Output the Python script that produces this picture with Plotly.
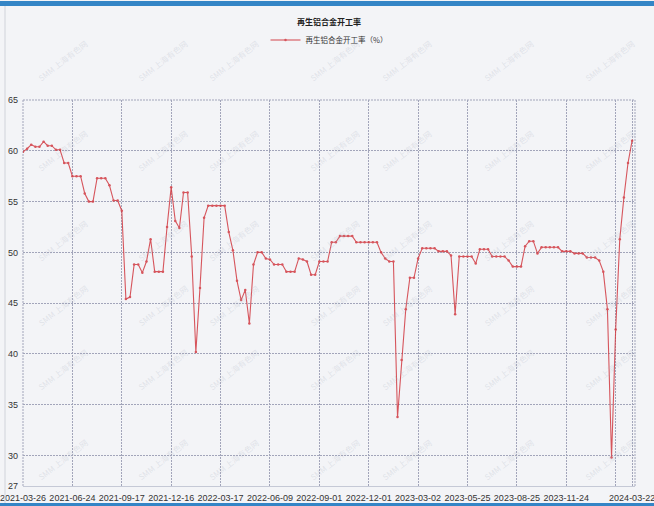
import plotly.graph_objects as go

title_text = "再生铝合金开工率"
series_name = "再生铝合金开工率（%）"

# weekly observations (index = reporting week)
values = [
    59.9, 60.2, 60.6, 60.4, 60.4, 60.9, 60.5, 60.5, 60.1, 60.1,
    58.8, 58.8, 57.5, 57.5, 57.5, 55.8, 55.0, 55.0, 57.3, 57.3,
    57.3, 56.6, 55.1, 55.1, 54.1, 45.4, 45.6, 48.8, 48.8, 48.0,
    49.1, 51.3, 48.1, 48.1, 48.1, 52.5, 56.4, 53.1, 52.4, 55.9,
    55.9, 49.6, 40.2, 46.5, 53.4, 54.6, 54.6, 54.6, 54.6, 54.6,
    52.0, 50.2, 47.2, 45.3, 46.3, 43.0, 48.8, 50.0, 50.0, 49.4,
    49.3, 48.8, 48.8, 48.8, 48.1, 48.1, 48.1, 49.4, 49.3, 49.1,
    47.8, 47.8, 49.1, 49.1, 49.1, 51.0, 51.0, 51.6, 51.6, 51.6,
    51.6, 51.0, 51.0, 51.0, 51.0, 51.0, 51.0, 50.0, 49.4, 49.1,
    49.1, 33.8, 39.4, 44.4, 47.5, 47.5, 49.4, 50.4, 50.4, 50.4,
    50.4, 50.1, 50.1, 50.1, 49.7, 43.9, 49.6, 49.6, 49.6, 49.6,
    48.9, 50.3, 50.3, 50.3, 49.6, 49.6, 49.6, 49.6, 49.2, 48.6,
    48.6, 48.6, 50.6, 51.1, 51.1, 49.9, 50.5, 50.5, 50.5, 50.5,
    50.5, 50.1, 50.1, 50.1, 49.9, 49.9, 49.9, 49.5, 49.5, 49.5,
    49.2, 48.1, 44.4, 29.8, 42.4, 51.3, 55.4, 58.8, 61.0,
]
week_index = list(range(len(values)))

tick_weeks = [0, 12, 24, 36, 48, 60, 72, 84, 96, 108, 120, 132, 144, 148]
tick_labels = ["2021-03-26", "2021-06-24", "2021-09-17", "2021-12-16",
               "2022-03-17", "2022-06-09", "2022-09-01", "2022-12-01",
               "2023-03-02", "2023-05-25", "2023-08-25", "2023-11-24",
               "", "2024-03-22"]
y_ticks = [27, 30, 35, 40, 45, 50, 55, 60, 65]

W, H = 654, 506
L, R, T, B = 23, 19, 100, 20
pw, ph = W - L - R, H - T - B

def px_to_paper(x, y):
    return (x - L) / pw, (H - B - y) / ph

line_color = "#d23a42"
grid_color = "#a2a5ba"
grid_dash = "2px,1px"
bg = "#f3f4f7"
num_font = "Liberation Sans Narrow, Liberation Sans, Arial, sans-serif"
cjk_font = "Noto Sans CJK SC, sans-serif"

fig = go.Figure()
fig.add_trace(go.Scatter(
    x=week_index, y=values, mode="lines+markers", name=series_name,
    line=dict(color=line_color, width=1.1),
    marker=dict(color=line_color, size=2.5, symbol="circle"),
    opacity=0.85,
))

annotations = []
# watermarks
for wy in [35, 125, 215, 305, 395, 485]:
    for wx in [33, 133, 234, 335, 437, 539, 640]:
        ax_, ay_ = px_to_paper(wx, wy)
        annotations.append(dict(
            x=ax_, y=ay_, xref="paper", yref="paper", text="SMM 上海有色网",
            showarrow=False, textangle=-38,
            font=dict(family=cjk_font, size=8, color="rgba(170,176,190,0.28)"),
        ))

shapes = []
# top blue bar
x0p, y0p = px_to_paper(0, 1)
x1p, y1p = px_to_paper(W, 6)
shapes.append(dict(type="rect", xref="paper", yref="paper", x0=x0p, x1=x1p,
                   y0=y0p, y1=y1p, fillcolor="#3485c6", line=dict(width=0),
                   layer="above"))
x0p, y0p = px_to_paper(0, 503)
x1p, y1p = px_to_paper(W, 506)
shapes.append(dict(type="rect", xref="paper", yref="paper", x0=x0p, x1=x1p,
                   y0=y0p, y1=y1p, fillcolor="#3485c6", line=dict(width=0),
                   layer="above"))
# left frame line
lx, ly0 = px_to_paper(5, 6)
_, ly1 = px_to_paper(5, 503)
shapes.append(dict(type="line", xref="paper", yref="paper", x0=lx, x1=lx,
                   y0=ly0, y1=ly1, line=dict(color="#d0d3da", width=1)))
# plot-area border (dotted, like the grid)
for (a0, a1, b0, b1) in [(1, 1, 0, 1), (0, 0, 0, 1), (0, 1, 1, 1)]:
    shapes.append(dict(type="line", xref="paper", yref="paper", x0=a0, x1=a1,
                       y0=b0, y1=b1, layer="below",
                       line=dict(color=grid_color, width=1, dash=grid_dash)))

fig.update_layout(
    width=W, height=H,
    margin=dict(l=L, r=R, t=T, b=B, pad=0),
    paper_bgcolor=bg, plot_bgcolor=bg,
    title=dict(text="<b>" + title_text + "</b>", x=0.5, xref="paper",
               xanchor="center", y=1 - 22 / H, yanchor="middle",
               font=dict(family=cjk_font, size=8, color="#222222")),
    showlegend=True,
    legend=dict(orientation="h", x=0.5, xanchor="center",
                y=(H - B - 40) / ph, yanchor="middle",
                font=dict(family=cjk_font, size=7.5, color="#333333"),
                bgcolor="rgba(0,0,0,0)", itemwidth=30),
    xaxis=dict(
        range=[0, 148.7], tickmode="array", tickvals=tick_weeks,
        ticktext=tick_labels, showgrid=True, gridcolor=grid_color,
        griddash=grid_dash, gridwidth=1, zeroline=False, showline=True,
        linecolor="#c5c9d6", linewidth=1, ticks="", automargin=False,
        tickfont=dict(family=num_font, size=9, color="#333333"),
        ticklabelstandoff=3, ticklabeloverflow="allow",
    ),
    yaxis=dict(
        range=[27, 65], tickmode="array", tickvals=y_ticks,
        showgrid=True, gridcolor=grid_color, griddash=grid_dash, gridwidth=1,
        zeroline=False, showline=False, ticks="", automargin=False,
        tickfont=dict(family=num_font, size=9, color="#333333"),
        ticklabelstandoff=4, ticklabeloverflow="allow",
    ),
    annotations=annotations,
    shapes=shapes,
)

fig.write_html(
    "out.html",
    config={"displayModeBar": False},
    post_script="document.body.style.margin='0';document.body.style.padding='0';",
)
